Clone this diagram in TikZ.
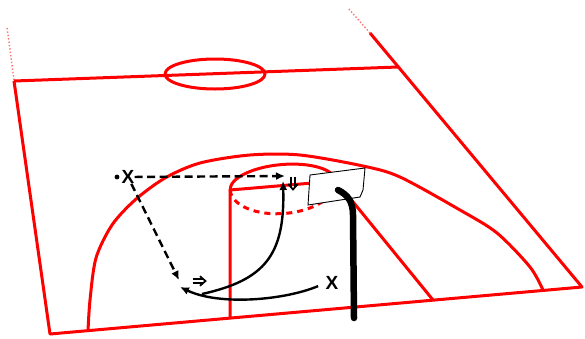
\documentclass[tikz,border=0pt]{standalone}
\usepackage{fontspec}
\setmainfont{Liberation Sans}
\usetikzlibrary{arrows.meta}

\tikzset{
    halt/.pic={
        \draw[line width=1.3pt] (-6.5,-1.9) -- (4,-1.9) (-6.5,1.9) -- (4,1.9);
        \draw[line width=1.7pt] (1,-4.8) -- (6.5,0) -- (1,4.8);
    }
}

\begin{document}
\begin{tikzpicture}
    [x=1pt, y=-1pt,
     court/.style={red, line width=3pt, line join=round},
     fade/.style={red!55, line width=1.4pt, dotted},
     player/.style={font=\fontsize{19}{19}\selectfont\bfseries, inner sep=0pt},
     pass/.style={line width=2.4pt, dash pattern=on 8pt off 4.5pt, -{Latex[length=9pt,width=8pt]}},
     move/.style={line width=2.4pt, -{Latex[length=9pt,width=8pt]}}]
    \useasboundingbox (0,0) rectangle (585,338);

    % court lines
    \draw[fade] (14,80) -- (7,27);
    \draw[fade] (370,33) -- (348,8);
    \draw[court] (14,81) -- (398,67);
    \draw[court] (370,33) -- (582,287) -- (50,334) -- (14,81);
    \draw[court] (215,74) ellipse [x radius=50, y radius=15];
    \draw[court] plot[smooth] coordinates {(88,331) (90,300) (96,258) (112,225) (135,200)
        (165,178) (200,163) (250,155) (300,155) (363,166) (400,177) (460,210) (497,233)
        (530,267) (543,290)};
    \draw[court] (230,318) -- (230,190) -- (336,181) -- (433,300);
    \begin{scope}[shift={(283,185.5)}, rotate=5]
        \draw[court] (53,0) arc[start angle=0, end angle=-180, x radius=53, y radius=21];
        \draw[court, dash pattern=on 6pt off 5pt] (-53,0) arc[start angle=180, end angle=0, x radius=53, y radius=28];
    \end{scope}

    % backboard and post
    \draw[line width=0.9pt, fill=white] (310,175) -- (365,168) -- (363,190) -- (360,197) -- (308,205) -- cycle;
    \draw[line width=6.5pt, line cap=round] (338,190) .. controls (348,195) and (353,202) .. (353,215) -- (354,318);

    % players
    \node[player] (x1) at (128,177) {X};
    \node[circle, fill, inner sep=1.7pt] (ball) at (117,177) {};
    \node[player] (x2) at (332,283) {X};
    \coordinate (screen) at (285,176);
    \coordinate (cut) at (179,280);
    \coordinate (recv) at (180,287);
    \coordinate (turn) at (202,294);
    \coordinate (shot) at (283,181);

    % moves
    \draw[pass] (x1) -- (screen);
    \draw[pass] (x1) -- (cut);
    \draw[move, shorten <=8pt] (x2.west) .. controls (285,300) and (220,306) .. (recv);
    \draw[move] (turn) .. controls (265,280) and (285,255) .. (shot);
    \pic at (199,281) {halt};
    \pic[rotate=-90] at (293,183) {halt};
\end{tikzpicture}
\end{document}
